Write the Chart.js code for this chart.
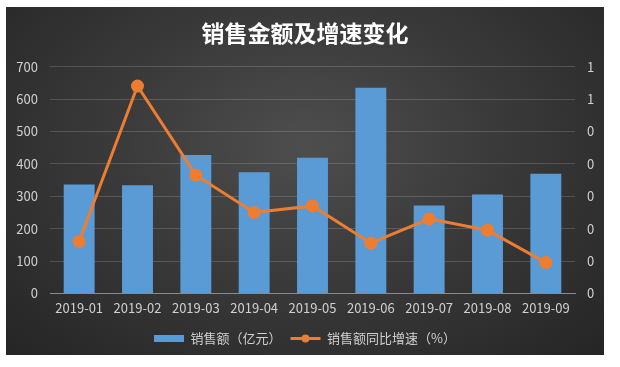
<!DOCTYPE html>
<html>
<head>
<meta charset="utf-8">
<script src="https://cdn.jsdelivr.net/npm/chart.js@4"></script>
<style>
  html, body { margin: 0; padding: 0; background: #ffffff; }
  #panel {
    position: absolute; left: 6px; top: 7px; width: 598px; height: 348px;
    background: radial-gradient(ellipse at 50% 40%, #4e4e4e 0%, #3a3a3a 45%, #252525 100%);
  }
</style>
</head>
<body>
<div id="panel"><canvas id="chart" width="598" height="348"></canvas></div>
<script>
// Chart data
const months = ['2019-01', '2019-02', '2019-03', '2019-04', '2019-05', '2019-06', '2019-07', '2019-08', '2019-09'];
const salesAmount = [336, 334, 427, 374, 419, 635, 271, 305, 369];
const growthRate = [0.32, 1.28, 0.73, 0.50, 0.54, 0.31, 0.46, 0.39, 0.19];
const rightTickLabels = ['0', '0', '0', '0', '0', '0', '1', '1'];

const barColor = '#5b9bd5';
const lineColor = '#ed7d31';
const textColor = '#d0d0d0';
const gridColor = 'rgba(255, 255, 255, 0.16)';
const fontFamily = '"Noto Sans CJK SC", "Noto Sans", sans-serif';

// Draws the dot in the middle of the line legend sample
const legendDot = {
    id: 'legendDot',
    afterDraw(chart) {
        const boxes = chart.legend.legendHitBoxes;
        if (!boxes || boxes.length < 2) return;
        const b = boxes[1];
        const ctx = chart.ctx;
        ctx.save();
        ctx.fillStyle = lineColor;
        ctx.beginPath();
        ctx.arc(b.left + 15, b.top + b.height / 2, 4, 0, Math.PI * 2);
        ctx.fill();
        ctx.restore();
    }
};

new Chart(document.getElementById('chart'), {
    data: {
        labels: months,
        datasets: [
            {
                type: 'line',
                label: '销售额同比增速（%）',
                data: growthRate,
                yAxisID: 'y1',
                borderColor: lineColor,
                backgroundColor: lineColor,
                borderWidth: 3,
                pointRadius: 5,
                pointBackgroundColor: lineColor,
                pointBorderColor: lineColor,
                tension: 0,
                order: 0
            },
            {
                type: 'bar',
                label: '销售额（亿元）',
                data: salesAmount,
                yAxisID: 'y',
                backgroundColor: barColor,
                barPercentage: 0.53,
                categoryPercentage: 1,
                order: 1
            }
        ]
    },
    options: {
        responsive: false,
        animation: false,
        layout: { padding: { left: 0, right: 0, top: 0, bottom: 0 } },
        plugins: {
            title: {
                display: true,
                text: '销售金额及增速变化',
                color: '#ffffff',
                font: { family: fontFamily, size: 23, weight: 'bold' },
                padding: { top: 12, bottom: 20 }
            },
            legend: {
                position: 'bottom',
                labels: {
                    color: textColor,
                    font: { family: fontFamily, size: 13 },
                    usePointStyle: true,
                    pointStyleWidth: 30,
                    boxHeight: 7,
                    padding: 9,
                    generateLabels(chart) {
                        return [
                            { text: '销售额（亿元）', fillStyle: barColor, strokeStyle: barColor, lineWidth: 0, pointStyle: 'rect', fontColor: textColor, datasetIndex: 1 },
                            { text: '销售额同比增速（%）', fillStyle: lineColor, strokeStyle: lineColor, lineWidth: 3, pointStyle: 'line', fontColor: textColor, datasetIndex: 0 }
                        ];
                    }
                }
            },
            tooltip: { enabled: false }
        },
        scales: {
            x: {
                grid: { display: false, drawTicks: false },
                border: { color: '#8a8a8a', width: 1 },
                ticks: { color: textColor, font: { family: fontFamily, size: 13 }, padding: 7, maxRotation: 0 }
            },
            y: {
                position: 'left',
                min: 0, max: 700,
                grid: { color: gridColor, drawTicks: false },
                border: { display: false },
                ticks: { stepSize: 100, color: textColor, font: { family: fontFamily, size: 13 }, padding: 12 },
                afterFit(scale) { scale.width = 44; }
            },
            y1: {
                position: 'right',
                min: 0, max: 1.4,
                grid: { display: false, drawTicks: false },
                border: { display: false },
                ticks: {
                    stepSize: 0.2, color: textColor, font: { family: fontFamily, size: 13 }, padding: 12,
                    callback: (v, i) => rightTickLabels[i]
                },
                afterFit(scale) { scale.width = 29; }
            }
        }
    },
    plugins: [legendDot]
});
</script>
</body>
</html>
